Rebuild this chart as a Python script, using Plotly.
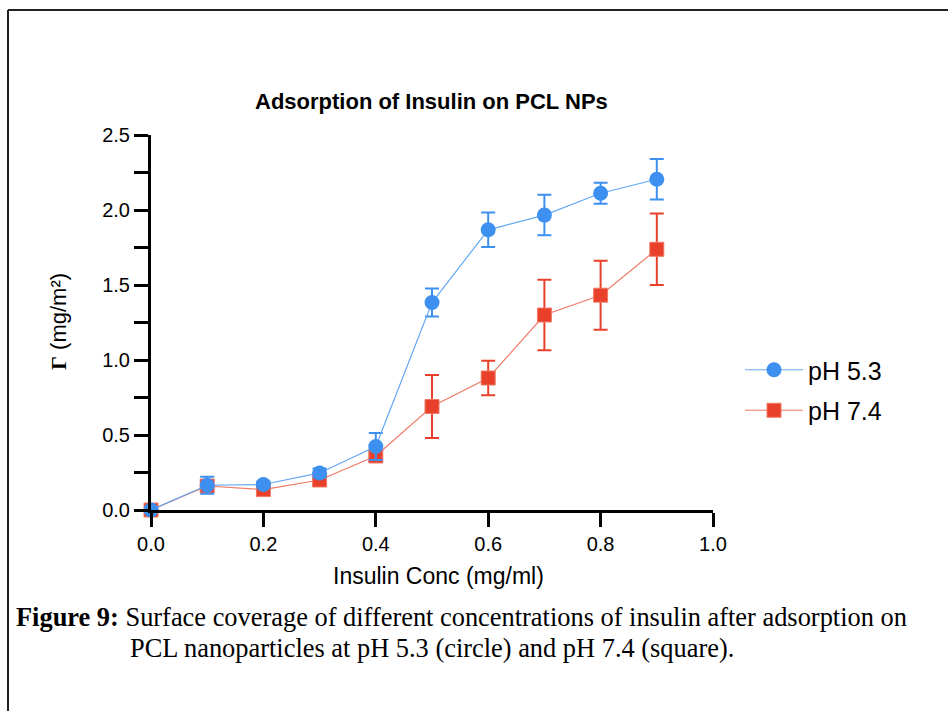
import plotly.graph_objects as go

# ---- data ----
conc = [0.0, 0.1, 0.2, 0.3, 0.4, 0.5, 0.6, 0.7, 0.8, 0.9]
ph53 = [0.0, 0.165, 0.170, 0.247, 0.423, 1.383, 1.868, 1.966, 2.112, 2.205]
ph53_err = [0.0, 0.057, 0.02, 0.03, 0.09, 0.093, 0.115, 0.135, 0.07, 0.135]
ph74 = [0.0, 0.160, 0.136, 0.200, 0.360, 0.690, 0.880, 1.300, 1.432, 1.738]
ph74_err = [0.0, 0.03, 0.02, 0.04, 0.04, 0.21, 0.115, 0.235, 0.23, 0.238]
names = ["pH 5.3", "pH 7.4"]
xticks = [0.0, 0.2, 0.4, 0.6, 0.8, 1.0]
yticks = [0.0, 0.5, 1.0, 1.5, 2.0, 2.5]

W, H = 948, 711
L, R, T, B = 151, 235, 135, 201
PW, PH = W - L - R, H - T - B

def px(xp):
    return (xp - L) / PW

def py(yp):
    return (H - B - yp) / PH

BLUE = "#3d8ff0"
BLUE_L = "#64a8f4"
RED = "#e8402a"
RED_L = "#f07a66"

fig = go.Figure()
fig.add_trace(go.Scatter(
    x=conc, y=ph74, name=names[1], mode="lines+markers",
    line=dict(color=RED_L, width=1.2),
    marker=dict(symbol="square", size=14, color=RED, line=dict(color=RED_L, width=1)),
    error_y=dict(type="data", array=ph74_err, color=RED, thickness=2, width=7),
    cliponaxis=False, legendrank=2, legendgroup="b",
))
fig.add_trace(go.Scatter(
    x=conc, y=ph53, name=names[0], mode="lines+markers",
    line=dict(color=BLUE_L, width=1.2),
    marker=dict(symbol="circle", size=15, color=BLUE),
    error_y=dict(type="data", array=ph53_err, color=BLUE, thickness=2, width=7),
    cliponaxis=False, legendrank=1, legendgroup="a",
))

axis_font = dict(family="Liberation Sans, Arial", size=20, color="black")
fig.update_xaxes(
    range=[0, 1], tickvals=xticks, ticktext=[f"{v:.1f}" for v in xticks],
    showline=True, linewidth=3, linecolor="black", ticks="outside", ticklen=14,
    tickwidth=3, tickcolor="black", showgrid=False, zeroline=False,
    tickfont=axis_font, ticklabelstandoff=0,
)
fig.update_yaxes(
    range=[0, 2.5], tickvals=yticks, ticktext=[f"{v:.1f}" for v in yticks],
    showline=True, linewidth=3, linecolor="black", ticks="outside", ticklen=14,
    tickwidth=3, tickcolor="black", showgrid=False, zeroline=False,
    tickfont=axis_font, ticklabelstandoff=0,
    minor=dict(dtick=0.25, tick0=0, ticks="outside", ticklen=14, tickwidth=3, tickcolor="black"),
)

annotations = [
    dict(text="<b>Adsorption of Insulin on PCL NPs</b>", x=px(431), y=py(101),
         font=dict(family="Liberation Sans, Arial", size=22, color="black")),
    dict(text="Insulin Conc (mg/ml)", x=px(438), y=py(576),
         font=dict(family="Liberation Sans, Arial", size=23, color="black")),
    dict(text="<span style='font-family:Liberation Serif'><b>Γ</b></span> (mg/m²)", x=px(58), y=py(322),
         textangle=-90,
         font=dict(family="Liberation Sans, Arial", size=22, color="black")),
    dict(text="<b>Figure 9:</b> Surface coverage of different concentrations of insulin after adsorption on",
         x=px(14), y=py(617), xanchor="left",
         font=dict(family="Liberation Serif, Times New Roman", size=26.4, color="black")),
    dict(text="PCL nanoparticles at pH 5.3 (circle) and pH 7.4 (square).",
         x=px(128), y=py(648), xanchor="left",
         font=dict(family="Liberation Serif, Times New Roman", size=26.4, color="black")),
]
for a in annotations:
    a.setdefault("xanchor", "center")
    a.setdefault("yanchor", "middle")
    a.update(xref="paper", yref="paper", showarrow=False)

shapes = [
    dict(type="line", xref="paper", yref="paper", x0=px(8), x1=px(960), y0=py(10), y1=py(10),
         line=dict(color="#222222", width=2)),
    dict(type="line", xref="paper", yref="paper", x0=px(8), x1=px(8), y0=py(10), y1=py(720),
         line=dict(color="#222222", width=2)),
]

fig.update_layout(
    width=W, height=H, margin=dict(l=L, r=R, t=T, b=B),
    plot_bgcolor="white", paper_bgcolor="white",
    annotations=annotations, shapes=shapes,
    showlegend=True,
    legend=dict(x=px(740), y=py(347), xanchor="left", yanchor="top",
                font=dict(family="Liberation Sans, Arial", size=25, color="black"),
                traceorder="grouped", tracegroupgap=5, itemwidth=58,
                bgcolor="rgba(0,0,0,0)"),
)

fig.write_html("out.html")
